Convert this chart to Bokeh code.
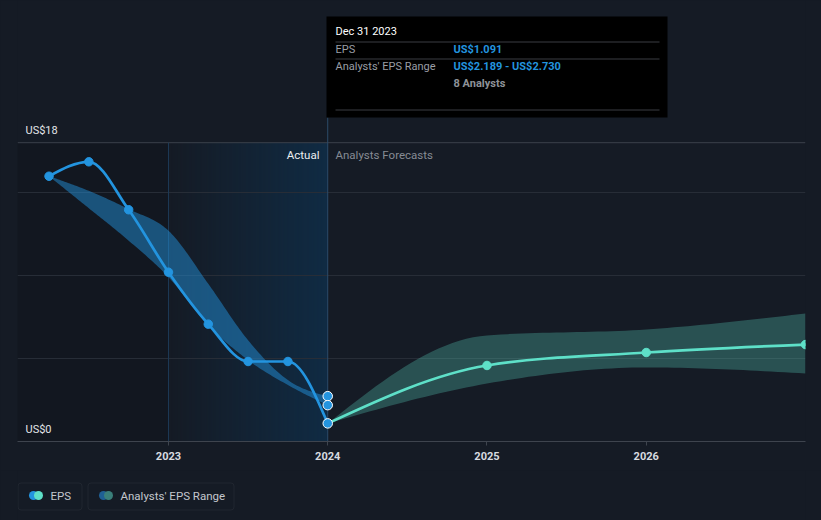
import numpy as np
from bokeh.plotting import figure
from bokeh.models import Range1d, BoxAnnotation, Label, FixedTicker
from bokeh.layouts import column
from bokeh.core.properties import value
from bokeh.embed import file_html
from bokeh.resources import INLINE

# ---------------- data ----------------
eps_dates = [2022.25, 2022.5, 2022.75, 2023.0, 2023.25, 2023.5, 2023.75, 2024.0]
eps_values = [15.98, 16.85, 13.96, 10.2, 7.07, 4.82, 4.82, 1.091]
past_range_high = [15.98, 15.1, 14.0, 12.7, 9.5, 6.1, 3.7, 2.730]
past_range_low = [15.98, 14.05, 12.1, 9.9, 7.0, 4.9, 3.4, 2.189]
fc_dates = [2024.0, 2025.0, 2026.0, 2027.0]
fc_values = [1.091, 4.58, 5.36, 5.84]
fc_high = [1.091, 6.39, 6.75, 7.71]
fc_low = [1.091, 3.49, 4.46, 4.10]
year_ticks = [2023, 2024, 2025, 2026]
y_ticks = [0, 18]
y_tick_labels = ["US$0", "US$18"]
grid_values = [5, 10, 15]

BG = "#151b25"
BLUE = "#2394df"
TEAL = "#5ee0c8"
FONT = "Roboto"

# ---------------- layout geometry ----------------
FRAME_W, FRAME_H = 788, 441
X0, X1 = 2022.052, 2027.0
Y0, Y1 = 0.0, 441 / 16.6
LEFT, RIGHT = 17, 16


def X(px):  # screen px -> data x (annotations only)
    return X0 + (px - LEFT) * (X1 - X0) / FRAME_W


def Y(py):  # screen px -> data y (annotations only)
    return Y1 - py * (Y1 - Y0) / FRAME_H


def monotone_tangents(x, y):
    x = np.asarray(x, float)
    y = np.asarray(y, float)
    n = len(x)
    h = np.diff(x)
    s = np.diff(y) / h
    m = np.zeros(n)
    for i in range(1, n - 1):
        s0, s1 = s[i - 1], s[i]
        p_ = (s0 * h[i] + s1 * h[i - 1]) / (h[i - 1] + h[i])
        m[i] = (np.sign(s0) + np.sign(s1)) * min(abs(s0), abs(s1), 0.5 * abs(p_))
    m[0] = (3 * s[0] - m[1]) / 2 if n > 2 else s[0]
    m[-1] = (3 * s[-1] - m[-2]) / 2 if n > 2 else s[-1]
    return x, y, m


def bezier_parts(x, y):
    x, y, m = monotone_tangents(x, y)
    dx = np.diff(x)
    return dict(
        x0=x[:-1], y0=y[:-1], x1=x[1:], y1=y[1:],
        cx0=x[:-1] + dx / 3, cy0=y[:-1] + m[:-1] * dx / 3,
        cx1=x[1:] - dx / 3, cy1=y[1:] - m[1:] * dx / 3,
    )


def smooth(x, y, k=24):
    b = bezier_parts(x, y)
    xs, ys = [], []
    t = np.linspace(0, 1, k)
    for i in range(len(b["x0"])):
        px_ = [b["x0"][i], b["cx0"][i], b["cx1"][i], b["x1"][i]]
        py_ = [b["y0"][i], b["cy0"][i], b["cy1"][i], b["y1"][i]]
        bx = (1 - t) ** 3 * px_[0] + 3 * (1 - t) ** 2 * t * px_[1] + 3 * (1 - t) * t ** 2 * px_[2] + t ** 3 * px_[3]
        by = (1 - t) ** 3 * py_[0] + 3 * (1 - t) ** 2 * t * py_[1] + 3 * (1 - t) * t ** 2 * py_[2] + t ** 3 * py_[3]
        if i > 0:
            bx, by = bx[1:], by[1:]
        xs.extend(bx)
        ys.extend(by)
    return np.array(xs), np.array(ys)


# ---------------- main figure ----------------
p = figure(
    frame_width=FRAME_W, frame_height=FRAME_H,
    x_range=Range1d(X0, X1), y_range=Range1d(Y0, Y1),
    output_backend="svg", toolbar_location=None,
    y_axis_location=None,
    min_border_left=LEFT, min_border_right=RIGHT, min_border_top=0, min_border_bottom=29,
    background_fill_color=BG, border_fill_color=BG, outline_line_color=None,
    styles={"background-color": BG},
)
p.grid.visible = False

# shaded past regions
p.add_layout(BoxAnnotation(right=2023.0, top=18, bottom=0, fill_color="#000000", fill_alpha=0.13,
                           line_color=None, level="underlay"))
N = 160
grad = np.zeros((1, N, 4), dtype=np.uint8)
grad[..., 0], grad[..., 1], grad[..., 2] = 13, 54, 88
grad[0, :, 3] = (np.linspace(0.0, 0.6, N) * 255).astype(np.uint8)
p.image_rgba(image=[grad.view(np.uint32).reshape(1, N)], x=2023.0, y=0, dw=1.0, dh=18)

# gridlines
p.segment(x0=[X0] * len(grid_values), y0=grid_values, x1=[X1] * len(grid_values), y1=grid_values,
          line_color="#272d37", line_width=1)
p.segment(x0=[X0], y0=[18], x1=[X1], y1=[18], line_color="#3a404a", line_width=1)
p.segment(x0=[2023.0], y0=[0], x1=[2023.0], y1=[18], line_color="#1d3a56", line_width=1)
p.segment(x0=[2024.0], y0=[0], x1=[2024.0], y1=[Y(117)], line_color="#2c4b68", line_width=1)

# bands
bx, bh = smooth(eps_dates, past_range_high)
_, bl = smooth(eps_dates, past_range_low)
p.varea(x=bx, y1=bl, y2=bh, fill_color=BLUE, fill_alpha=0.48)
fx, fh = smooth(fc_dates, fc_high)
_, fl = smooth(fc_dates, fc_low)
p.varea(x=fx, y1=fl, y2=fh, fill_color=TEAL, fill_alpha=0.28)

# lines
p.bezier(line_color=BLUE, line_width=2.7, line_cap="round", **bezier_parts(eps_dates, eps_values))
p.bezier(line_color=TEAL, line_width=2.7, line_cap="round", **bezier_parts(fc_dates, fc_values))

# markers
p.scatter(eps_dates[:-1], eps_values[:-1], size=8.5, fill_color=BLUE, line_color=BLUE)
p.scatter(fc_dates[1:], fc_values[1:], size=8.5, fill_color=TEAL, line_color=TEAL)
p.scatter([eps_dates[-1]] * 3, [past_range_high[-1], past_range_low[-1], eps_values[-1]],
          size=9.5, fill_color=BLUE, line_color="#ffffff", line_width=1)

# y tick labels (inside the plot)
for v, t in zip(y_ticks, y_tick_labels):
    p.add_layout(Label(x=X(25), y=v, y_offset=12, text=t, text_font=FONT,
                       text_font_size="11px", text_color="#e3e5e8",
                       text_baseline="middle", text_align="left"))

# Actual / Analysts Forecasts
p.add_layout(Label(x=X(319), y=Y(154), text="Actual", text_font=FONT, text_font_size="11.5px",
                   text_color="#eceef1", text_baseline="middle", text_align="right"))
p.add_layout(Label(x=X(335), y=Y(154), text="Analysts Forecasts", text_font=FONT,
                   text_font_size="11.5px", text_color="#868b94", text_baseline="middle",
                   text_align="left"))

# x axis
ax = p.xaxis[0]
ax.ticker = FixedTicker(ticks=year_ticks)
ax.major_label_overrides = {y: str(y) for y in year_ticks}
ax.axis_line_color = "#3e444e"
ax.major_tick_line_color = "#3e444e"
ax.major_tick_out = 4
ax.major_tick_in = 0
ax.minor_tick_line_color = None
ax.major_label_text_color = "#d8dbe0"
ax.major_label_text_font = FONT
ax.major_label_text_font_size = "11px"
ax.major_label_text_font_style = "bold"
ax.major_label_standoff = 6

# tooltip box
p.add_layout(BoxAnnotation(left=X(326), right=X(667), top=Y(16), bottom=Y(117),
                           fill_color="#000000", fill_alpha=1.0, line_color=None, level="overlay"))
for py in [41, 58, 109]:
    p.add_layout(BoxAnnotation(left=X(335), right=X(659), top=Y(py), bottom=Y(py + 1),
                               fill_color="#3a3d42", fill_alpha=1.0, line_color=None,
                               level="overlay"))


def tip(px, py, text, color, bold=False):
    p.add_layout(Label(x=X(px), y=Y(py), text=text, text_font=FONT, text_font_size="11px",
                       text_color=color, text_baseline="middle", text_align="left",
                       text_font_style="bold" if bold else "normal", level="overlay"))


tip(335, 31, "Dec 31 2023", "#ffffff")
tip(335, 49, "EPS", "#9a9ea5")
tip(453, 49, "US$%.3f" % eps_values[-1], BLUE, True)
tip(335, 66, "Analysts' EPS Range", "#9a9ea5")
tip(453, 66, "US$%.3f - US$%.3f" % (past_range_low[-1], past_range_high[-1]), BLUE, True)
tip(453, 83, "8 Analysts", "#8e9298", True)

# ---------------- legend strip ----------------
lg = figure(frame_width=FRAME_W, frame_height=50, x_range=Range1d(LEFT, LEFT + FRAME_W),
            y_range=Range1d(50, 0),
            output_backend="svg", toolbar_location=None, x_axis_location=None,
            y_axis_location=None,
            min_border_left=LEFT, min_border_right=RIGHT, min_border_top=0, min_border_bottom=0,
            background_fill_color=BG, border_fill_color=BG, outline_line_color=None,
            styles={"background-color": BG})
lg.grid.visible = False
for l, r in [(17.5, 81.5), (87.5, 233.5)]:
    lg.add_layout(BoxAnnotation(left=l, right=r, top=12.5, bottom=39.5, fill_alpha=0,
                                line_color="#3c424c", line_width=1, border_radius=3))
lg.scatter([33, 38], [25, 25], size=9, fill_color=[BLUE, TEAL], line_color=None)
lg.scatter([103, 108], [25, 25], size=9, fill_color=["#1f5f94", "#3a7f7a"], line_color=None)
lg.text([50, 120], [25.5, 25.5], text=["EPS", "Analysts' EPS Range"], text_font=value(FONT),
        text_font_size="11.5px", text_color="#c3c7cd", text_baseline="middle", text_align="left")

layout = column(p, lg, spacing=0, styles={"background-color": BG})
open("out.html", "w").write(file_html(layout, INLINE))
